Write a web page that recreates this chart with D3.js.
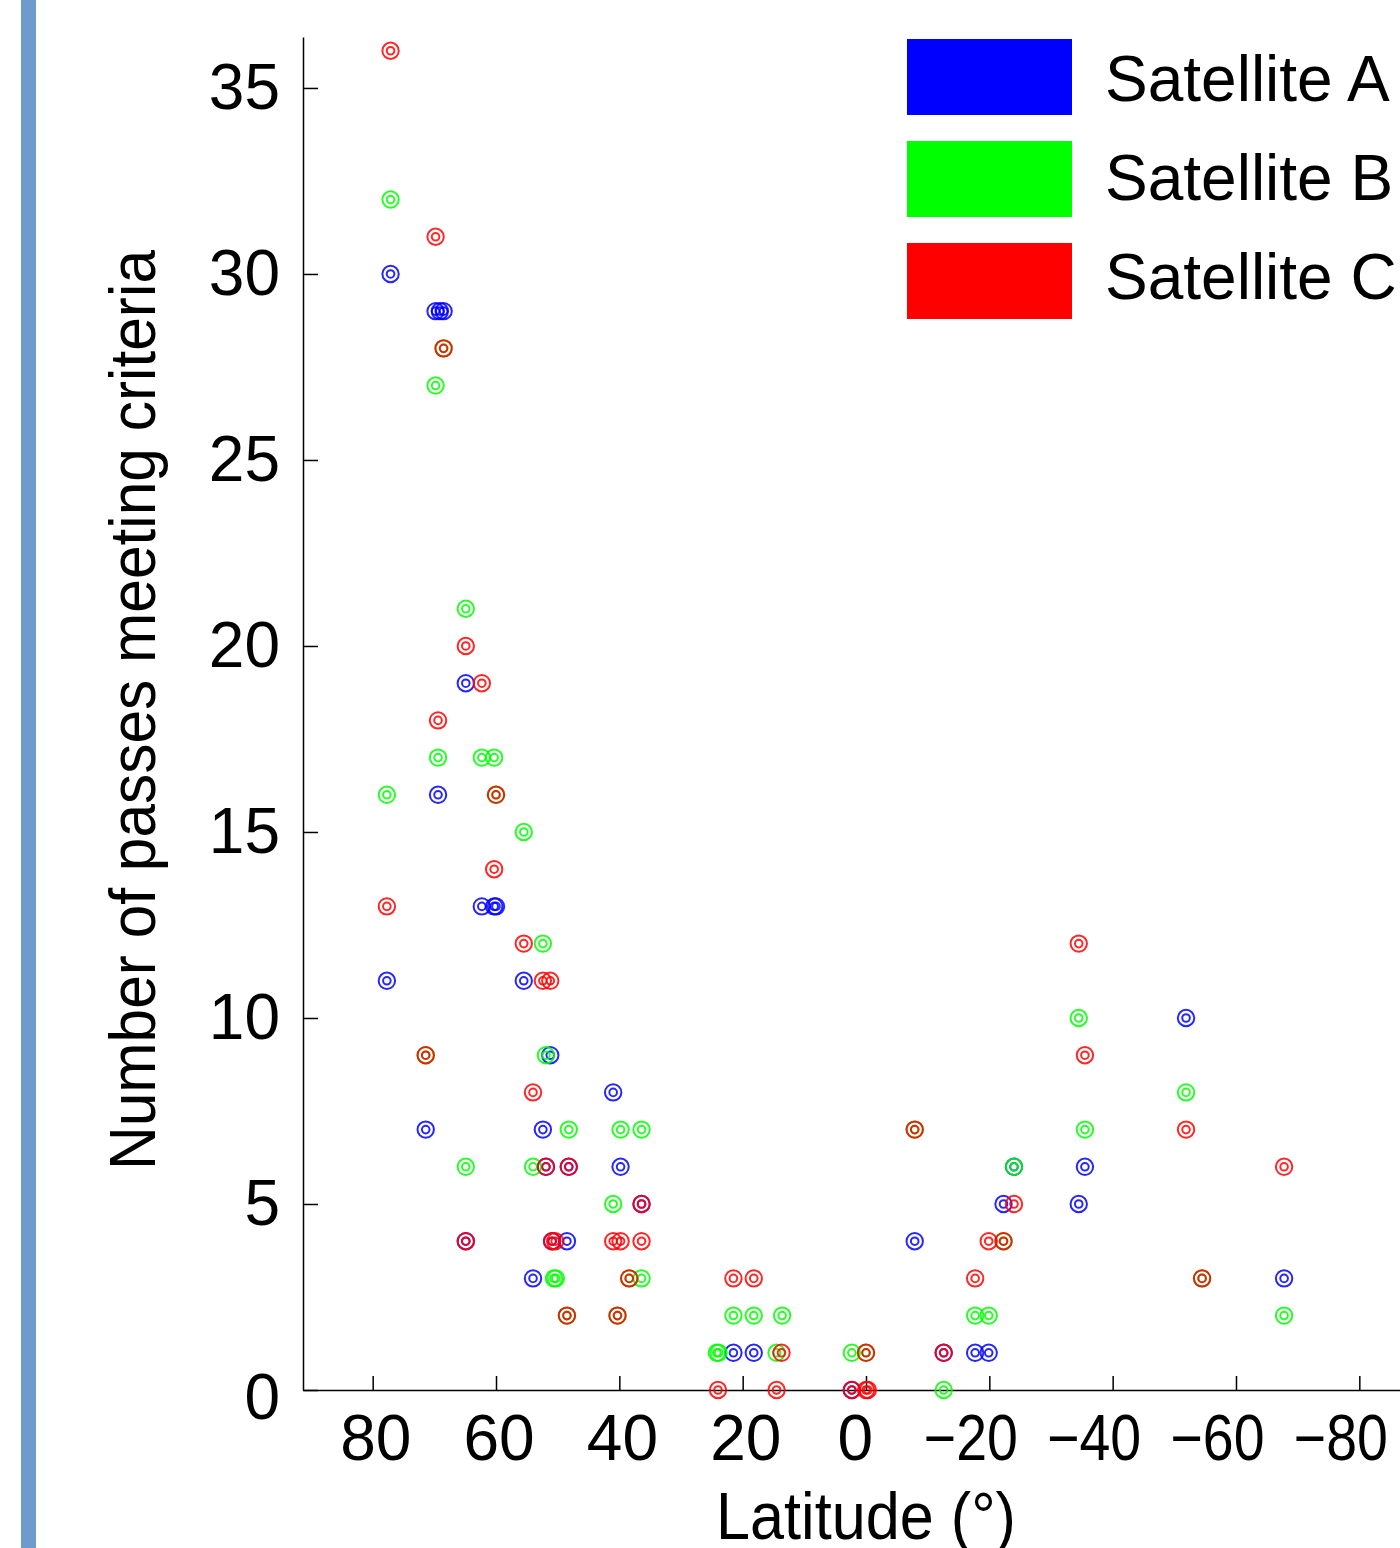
<!DOCTYPE html>
<html>
<head>
<meta charset="utf-8">
<script src="https://cdn.jsdelivr.net/npm/d3@7"></script>
<style>
body { margin: 0; background: #fff; }
svg { display: block; font-family: "Liberation Sans", Arial, sans-serif; }
.axis path, .axis line { stroke: #000; stroke-width: 1.5; }
.axis text { fill: #000; font-size: 64px; }
</style>
</head>
<body>
<div id="chart"></div>
<script>
// values
var seriesNames = ["Satellite A", "Satellite B", "Satellite C"];
var seriesColors = ["#0000ff", "#00ff00", "#ff0000"];

var latA = [77.1, 69.8, 69.1, 68.5, 64.9, 69.4, 62.3, 60.3, 60.0, 77.7, 55.5, 51.2, 41.0, 71.4, 52.4,
  51.9, 48.2, 39.8, 36.4, 64.9, 50.9, 48.5, 54.0, 21.5, 18.2, 2.3, -7.9, -12.6, -17.7, -19.9,
  -22.3, -24.0, -34.5, -35.5, -51.9, -67.8];
var passesA = [30, 29, 29, 29, 19, 16, 13, 13, 13, 11, 11, 9, 8, 7, 7,
  6, 6, 6, 5, 4, 4, 4, 3, 1, 1, 0, 4, 1, 1, 1,
  5, 6, 5, 6, 10, 3];

var latB = [77.1, 69.8, 68.5, 64.9, 69.4, 62.3, 60.3, 77.7, 60.0, 55.5, 52.4, 51.9, 71.4, 48.2, 39.8,
  36.4, 64.9, 54.0, 41.0, 50.6, 50.3, 38.4, 36.4, 48.5, 40.3, 21.5, 18.2, 13.6, 24.2, 23.9,
  14.5, 2.3, 0.0, -7.9, -24.0, -22.3, -17.7, -19.9, -12.6, -34.5, -35.5, -51.9, -54.5, -67.8];
var passesB = [32, 27, 28, 21, 17, 17, 17, 16, 16, 15, 12, 9, 9, 7, 7,
  7, 6, 6, 5, 3, 3, 3, 3, 2, 2, 2, 2, 2, 1, 1,
  1, 1, 1, 7, 6, 4, 2, 2, 0, 10, 7, 8, 3, 2];

var latC = [77.1, 69.8, 68.5, 64.9, 62.3, 69.4, 60.0, 60.3, 77.7, 55.5, 52.4, 51.2, 71.4, 54.0, 51.9,
  48.2, 36.4, 64.9, 50.9, 50.4, 41.0, 39.8, 36.4, 38.4, 21.5, 18.2, 48.5, 40.3, 13.7, 0.0,
  -12.6, 24.0, 14.5, 2.3, 0.0, -0.3, -7.9, -24.0, -19.9, -22.3, -17.7, -34.5, -35.5, -51.9, -54.5,
  -67.8];
var passesC = [36, 31, 28, 20, 19, 18, 16, 14, 13, 12, 11, 11, 9, 8, 6,
  6, 5, 4, 4, 4, 4, 4, 4, 3, 3, 3, 2, 2, 1, 1,
  1, 0, 0, 0, 0, 0, 7, 5, 4, 4, 3, 12, 9, 7, 3,
  6];

var xTicks = [80, 60, 40, 20, 0, -20, -40, -60, -80];
var yTicks = [0, 5, 10, 15, 20, 25, 30, 35];

var width = 1400, height = 1548;

var svg = d3.select("#chart").append("svg")
  .attr("width", width)
  .attr("height", height);

// slide border strip on the left
svg.append("rect")
  .attr("x", 21).attr("y", 0)
  .attr("width", 15).attr("height", height)
  .attr("fill", "#6e9bcd");

var x = d3.scaleLinear().domain([91.3, -91.3]).range([303, 1429]);
var y = d3.scaleLinear().domain([0, 36.37]).range([1390, 37]);

// x axis, ticks pointing inward
var gx = svg.append("g")
  .attr("class", "axis")
  .attr("transform", "translate(0,1390)")
  .call(d3.axisBottom(x).tickValues(xTicks).tickSizeInner(-14).tickSizeOuter(0));
gx.selectAll(".tick text")
  .attr("text-anchor", "start")
  .attr("y", 70).attr("dy", 0)
  .attr("x", function(d) { return d < 0 ? -66 : (d === 0 ? -29 : -33); })
  .each(function(d) {
    if (d < 0) d3.select(this).attr("textLength", 94).attr("lengthAdjust", "spacingAndGlyphs");
  });

var gy = svg.append("g")
  .attr("class", "axis")
  .attr("transform", "translate(303,0)")
  .call(d3.axisLeft(y).tickValues(yTicks).tickSizeInner(-15).tickSizeOuter(0));
gy.selectAll(".tick text")
  .attr("x", -23)
  .attr("dy", 0)
  .attr("y", function(d) { return d === 0 ? 28 : 21; });

// markers: ring with a smaller ring inside
function drawSeries(lat, passes, color) {
  var pts = lat.map(function(l, i) { return {lat: l, n: passes[i]}; });
  var g = svg.append("g")
    .attr("fill", "none")
    .attr("stroke", color)
    .attr("stroke-width", 2)
    .attr("stroke-opacity", 0.85);
  g.selectAll("circle.outer")
    .data(pts)
    .enter().append("circle")
    .attr("class", "outer")
    .attr("cx", function(d) { return x(d.lat); })
    .attr("cy", function(d) { return y(d.n); })
    .attr("r", 8.2);
  g.selectAll("circle.inner")
    .data(pts)
    .enter().append("circle")
    .attr("class", "inner")
    .attr("cx", function(d) { return x(d.lat); })
    .attr("cy", function(d) { return y(d.n); })
    .attr("r", 3.8);
}
drawSeries(latA, passesA, seriesColors[0]);
drawSeries(latB, passesB, seriesColors[1]);
drawSeries(latC, passesC, seriesColors[2]);

// legend
var legend = svg.append("g");
seriesNames.forEach(function(name, i) {
  legend.append("rect")
    .attr("x", 907).attr("y", 39 + i * 102)
    .attr("width", 165).attr("height", 76)
    .attr("fill", seriesColors[i]);
  legend.append("text")
    .attr("x", 1105).attr("y", 101 + i * 99)
    .attr("font-size", "64px")
    .text(name);
});

// axis titles
svg.append("text")
  .attr("x", 866).attr("y", 1539)
  .attr("text-anchor", "middle")
  .attr("font-size", "66px")
  .attr("textLength", 300)
  .attr("lengthAdjust", "spacingAndGlyphs")
  .text("Latitude (°)");

svg.append("text")
  .attr("transform", "translate(155,710) rotate(-90)")
  .attr("text-anchor", "middle")
  .attr("font-size", "64px")
  .attr("textLength", 920)
  .attr("lengthAdjust", "spacingAndGlyphs")
  .text("Number of passes meeting criteria");
</script>
</body>
</html>
